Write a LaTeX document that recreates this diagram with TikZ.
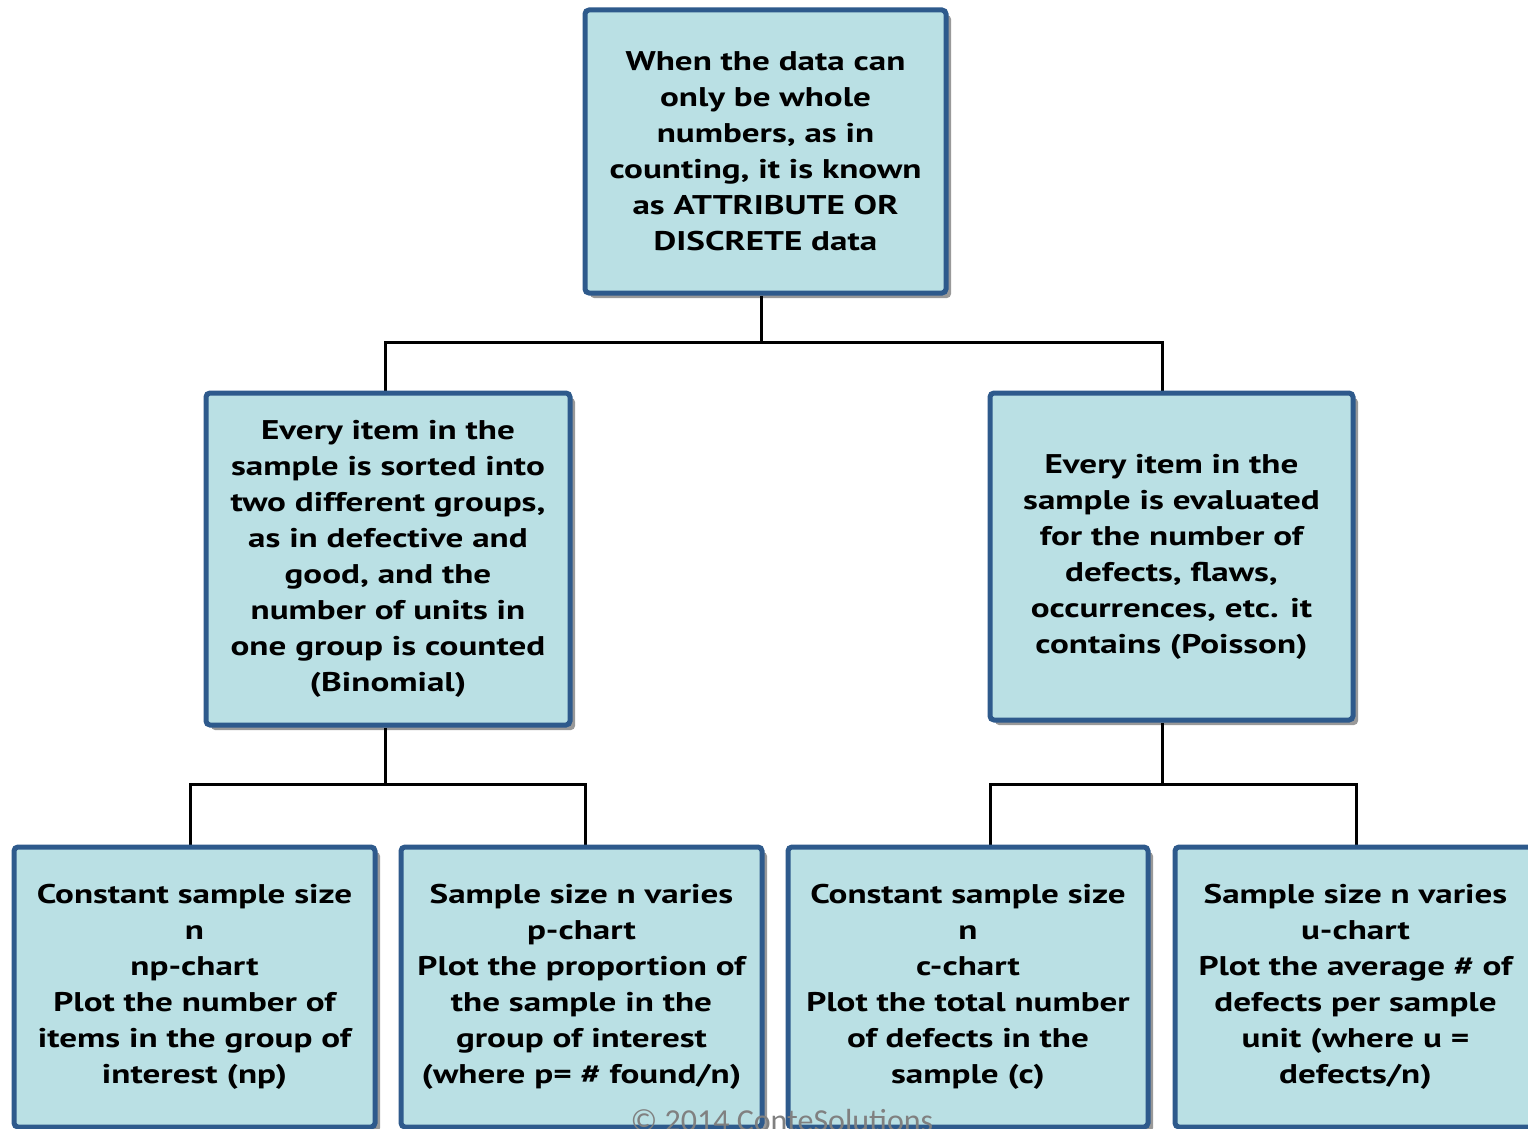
\documentclass[tikz,border=0pt]{standalone}
\usepackage{fontspec}
\setmainfont[FakeStretch=1.3]{PT Sans}
\newfontfamily\cfont{Carlito}
\usetikzlibrary{shadows,backgrounds}
\definecolor{boxfill}{HTML}{BAE0E4}
\definecolor{boxline}{HTML}{2E5A8C}
\begin{document}
\begin{tikzpicture}[x=0.5pt,y=-0.5pt,
  box/.style={draw=boxline, line width=2.5pt, fill=boxfill, rounded corners=2pt,
    drop shadow={shadow xshift=2.5pt, shadow yshift=-2.5pt, opacity=0.4, fill=black},
    align=center, font=\bfseries\fontsize{13.5}{18}\selectfont, inner sep=0pt},
  conn/.style={line width=1.5pt, draw=black}]
\useasboundingbox (0,0) rectangle (1528,1129);
\clip (0,0) rectangle (1528,1129);

\node[box, minimum width=180.5pt, minimum height=141.5pt] (top) at (765.5,151.5)
  {When the data can\\only be whole\\numbers, as in\\counting, it is known\\as ATTRIBUTE OR\\DISCRETE data};

\node[box, minimum width=182pt, minimum height=166pt] (ml) at (388,559)
  {Every item in the\\sample is sorted into\\two different groups,\\as in defective and\\good, and the\\number of units in\\one group is counted\\(Binomial)};

\node[box, minimum width=181.5pt, minimum height=163.5pt] (mr) at (1171.5,556.5)
  {Every item in the\\sample is evaluated\\for the number of\\defects, flaws,\\occurrences, etc. it\\contains (Poisson)};

\node[box, minimum width=180.5pt, minimum height=140pt] (b1) at (194.5,987)
  {Constant sample size\\n\\np-chart\\Plot the number of\\items in the group of\\interest (np)};
\node[box, minimum width=180.5pt, minimum height=140pt] (b2) at (581.5,987)
  {Sample size n varies\\p-chart\\Plot the proportion of\\the sample in the\\group of interest\\(where p= \# found/n)};
\node[box, minimum width=180pt, minimum height=140pt] (b3) at (968,987)
  {Constant sample size\\n\\c-chart\\Plot the total number\\of defects in the\\sample (c)};
\node[box, minimum width=180.5pt, minimum height=140pt] (b4) at (1355.5,987)
  {Sample size n varies\\u-chart\\Plot the average \# of\\defects per sample\\unit (where u =\\defects/n)};

\coordinate (ca) at (761,342);
\coordinate (cl) at (385,342);
\coordinate (cr) at (1162,342);
\coordinate (dl) at (385,784);
\coordinate (dl1) at (190,784);
\coordinate (dl2) at (585,784);
\coordinate (dr) at (1162,784);
\coordinate (dr1) at (990,784);
\coordinate (dr2) at (1356,784);

\begin{scope}[on background layer]
\fill[white] (0,0) rectangle (1528,1129);
\draw[conn] (top.south -| ca) -- (ca);
\draw[conn] (ml.north -| cl) -- (cl) -- (cr) -- (mr.north -| cr);
\draw[conn] (ml.south -| dl) -- (dl);
\draw[conn] (b1.north -| dl1) -- (dl1) -- (dl2) -- (b2.north -| dl2);
\draw[conn] (mr.south -| dr) -- (dr);
\draw[conn] (b3.north -| dr1) -- (dr1) -- (dr2) -- (b4.north -| dr2);
\end{scope}

\node[anchor=base, font=\cfont\fontsize{16}{16}\selectfont, text=black!50, inner sep=0pt] (copy) at (782,1131) {© 2014 ConteSolutions};
\end{tikzpicture}
\end{document}
